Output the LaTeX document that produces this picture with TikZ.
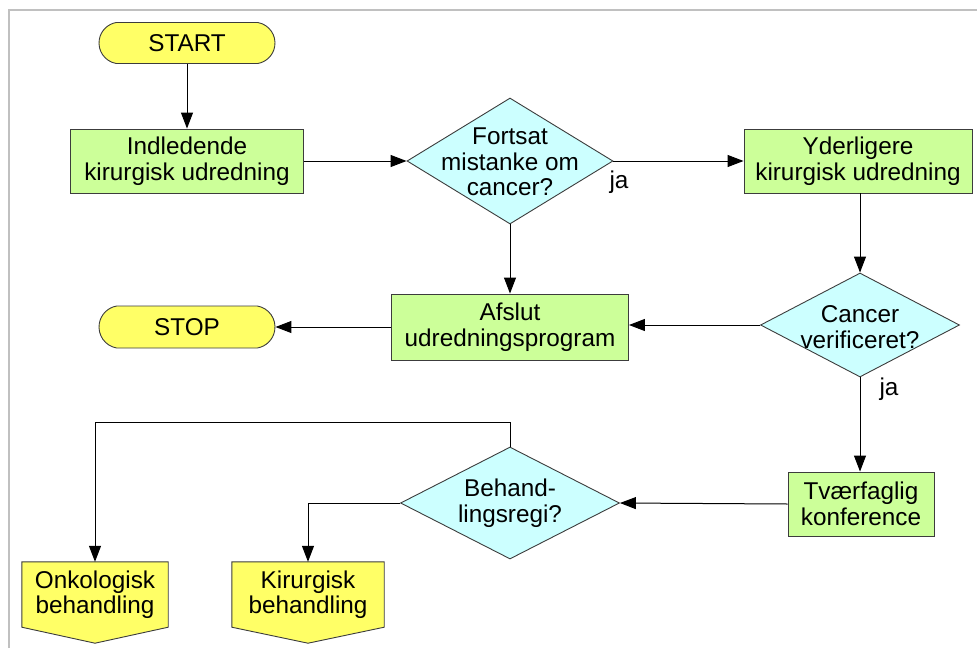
\documentclass[tikz,border=0pt]{standalone}
\usepackage{fontspec}
\setmainfont{Liberation Sans}
\usetikzlibrary{arrows.meta,shapes.geometric,shapes.misc,backgrounds}
\definecolor{termyellow}{HTML}{FFFF66}
\definecolor{procgreen}{HTML}{CCFF99}
\definecolor{decicyan}{HTML}{CCFFFF}
\definecolor{edgegray}{HTML}{3C3C3C}
\definecolor{framegray}{HTML}{C0C0C0}

\begin{document}
\begin{tikzpicture}[x=1pt,y=-1pt,
  font=\fontsize{24.3}{25.5}\selectfont,
  shapeedge/.style={draw=edgegray,line width=0.9pt},
  terminal/.style={shapeedge,rounded rectangle,rounded rectangle arc length=160,
    fill=termyellow,minimum width=176pt,minimum height=41pt,inner sep=0pt},
  process/.style={shapeedge,rectangle,fill=procgreen,minimum height=64pt,
    inner sep=0pt,align=center},
  decision/.style={shapeedge,diamond,fill=decicyan,inner sep=0pt},
  qtext/.style={align=center,inner sep=0pt},
  offpage/.style={rectangle,minimum height=65pt,inner sep=0pt,align=center},
  offpagefill/.style={shapeedge,fill=termyellow},
  arr/.style={draw=black,line width=1pt,-{Triangle[length=16pt,width=12pt]}},
  lbl/.style={inner sep=0pt}]

\useasboundingbox (0,0) rectangle (977,648);

% page frame (top and left edges)
\draw[framegray,line width=2pt] (9,648) -- (9,10) -- (977,10);

% top row
\node[terminal] (start) at (187,43) {START};
\node[process,minimum width=233pt] (ind) at (187,161) {Indledende\\kirurgisk udredning};
\node[decision,minimum width=206pt,minimum height=126pt] (d1) at (510,161) {};
\node[qtext] (d1t) at (510,162) {Fortsat\\mistanke om\\cancer?};
\node[process,minimum width=228pt] (yd) at (858,161) {Yderligere\\kirurgisk udredning};

% middle row
\node[terminal,minimum height=42pt] (stop) at (187,327) {STOP};
\node[process,minimum width=237pt,minimum height=66pt] (afs) at (510,327) {Afslut\\udredningsprogram};
\node[decision,minimum width=199pt,minimum height=104pt] (d2) at (860,325) {};
\node[qtext] (d2t) at (860,327) {Cancer\\verificeret?};

% bottom row
\node[process,minimum width=146pt] (tv) at (861,504) {Tværfaglig\\konference};
\node[decision,minimum width=219pt,minimum height=112pt] (d3) at (510,503) {};
\node[qtext] (d3t) at (510,503) {Behand-\\lingsregi?};
\node[offpage,minimum width=146pt] (onk) at (95,594.5) {Onkologisk\\behandling};
\node[offpage,minimum width=152pt] (kir) at (308,594.5) {Kirurgisk\\behandling};

% off-page connector outlines behind their labels
\begin{scope}[on background layer]
  \foreach \n in {onk,kir}
    \draw[offpagefill] (\n.north west) -- (\n.north east) -- (\n.south east)
      -- ([yshift=-16pt]\n.south) -- (\n.south west) -- cycle;
\end{scope}

% branch labels
\node[lbl] (ja1) at (619,182) {ja};
\node[lbl] (ja2) at (889,389) {ja};

% connectors
\draw[arr] (start.south) -- (ind.north);
\draw[arr] (ind.east) -- (d1.west);
\draw[arr] (d1.east) -- (yd.west);
\draw[arr] (d2.north |- yd.south) -- (d2.north);
\draw[arr] (d1.south) -- (afs.north);
\draw[arr] (d2.west) -- (d2.west -| afs.east);
\draw[arr] (afs.west) -- (stop.east);
\draw[arr] (d2.south) -- (d2.south |- tv.north);
\draw[arr] (tv.west) -- (d3.east);
\coordinate (up) at (510,422);
\draw[arr] (d3.north) -- (up) -| (onk.north);
\draw[arr] (d3.west) -| (kir.north);
\end{tikzpicture}
\end{document}
